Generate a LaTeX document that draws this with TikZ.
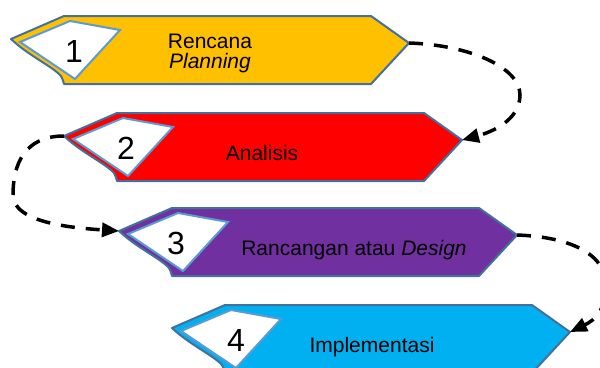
\documentclass[tikz,border=0pt]{standalone}
\usepackage{fontspec}
\setmainfont{Liberation Sans}
\usetikzlibrary{arrows.meta}
\definecolor{edgeblue}{HTML}{41719C}
\definecolor{lightblue}{HTML}{5B9BD5}
\definecolor{cyellow}{HTML}{FFC000}
\definecolor{cred}{HTML}{FF0000}
\definecolor{cpurple}{HTML}{7030A0}
\definecolor{cblue}{HTML}{00B0F0}
\tikzset{
 bannerbox/.style={draw=edgeblue, line width=2pt, line join=round},
 tagbox/.style={draw=lightblue, fill=white, line width=2pt, line join=miter},
 numtext/.style={font=\fontsize{32}{32}\selectfont, inner sep=0pt},
 labeltext/.style={font=\fontsize{21}{20}\selectfont, align=center, inner sep=0pt, anchor=base},
 flow/.style={draw=black, line width=3.5pt, dash pattern=on 14pt off 11pt, -{Triangle[length=17pt,width=14pt]}}
}
\newcommand\drawbanner[6]{%
 \begin{scope}[shift={(#2,#3)}]
 \draw[bannerbox, fill=#4] (0,0) -- (307,0) -- (345,27) -- (307,68) -- (0,68)
   .. controls (-1,64) and (-2,62) .. (-3,60)
   .. controls (-12,50) and (-35,40) .. (-53,23) -- cycle;
 \draw[tagbox] (6,5) -- (56,14) -- (11,63) -- (-44,26) -- cycle;
 \node[numtext] (#1num) at (#6,35) {#5};
 \coordinate (#1R) at (345,27);
 \coordinate (#1L) at (-53,23);
 \end{scope}}
\begin{document}
\begin{tikzpicture}[x=1pt,y=-1pt]
\useasboundingbox (0,0) rectangle (600,367);
\clip (0,0) rectangle (600,367);
\drawbanner{s1}{64}{16}{cyellow}{1}{10}
\drawbanner{s2}{117}{113}{cred}{2}{9}
\drawbanner{s3}{172}{208}{cpurple}{3}{4}
\drawbanner{s4}{225}{305}{cblue}{4}{11}
\node[labeltext] (t1) at (210,68) {Rencana\\\itshape Planning};
\node[labeltext] (t2) at (262,160) {Analisis};
\node[labeltext] (t3) at (354,255) {Rancangan atau \textit{Design}};
\node[labeltext] (t4) at (372,352) {Implementasi};
\coordinate (c1) at (520,95);
\coordinate (c2) at (13,195);
\coordinate (c3) at (606,285);
\draw[flow] (s1R) .. controls +(60,2) and +(0,-28) .. (c1)
  .. controls +(0,25) and +(30,-8) .. (s2R);
\draw[flow] (s2L) .. controls +(-40,0) and +(0,-30) .. (c2)
  .. controls +(0,28) and +(-45,-3) .. (s3L);
\draw[flow] (s3R) .. controls +(55,2) and +(0,-30) .. (c3)
  .. controls +(0,25) and +(25,-12) .. (s4R);
\end{tikzpicture}
\end{document}
